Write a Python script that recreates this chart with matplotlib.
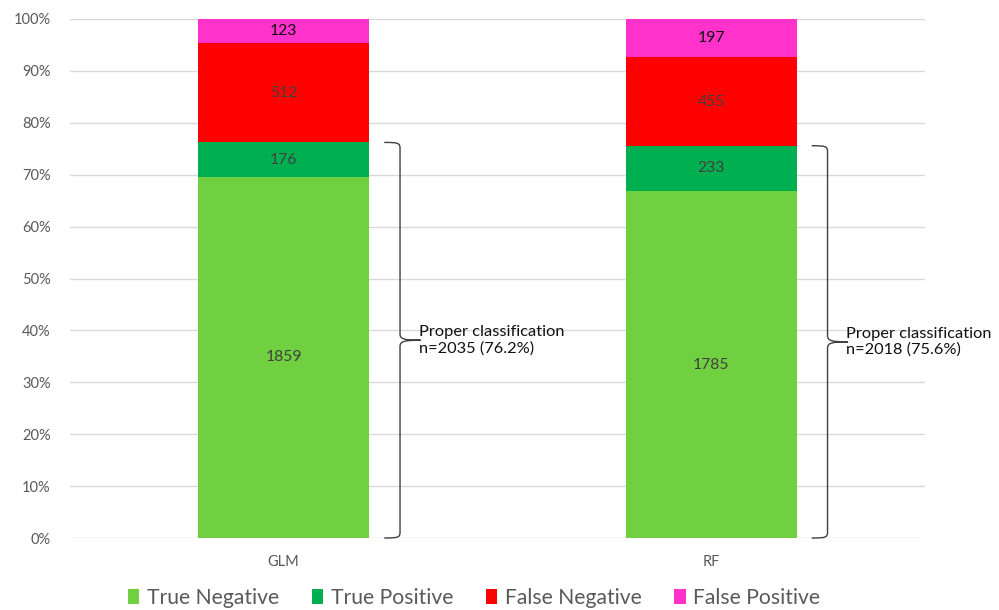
import matplotlib
matplotlib.use("Agg")
import matplotlib.pyplot as plt
from matplotlib.path import Path
from matplotlib.patches import PathPatch, Patch
from matplotlib.ticker import PercentFormatter

plt.rcParams['font.family'] = ['Lato', 'DejaVu Sans']

models = ["GLM", "RF"]
series = ["True Negative", "True Positive", "False Negative", "False Positive"]
true_negative = [1859, 1785]
true_positive = [176, 233]
false_negative = [512, 455]
false_positive = [123, 197]
colors = ["#70D040", "#00B050", "#FF0000", "#FF33CC"]
label_colors = ["#404040", "#404040", "#404040", "#111111"]

counts = [true_negative, true_positive, false_negative, false_positive]
totals = [sum(c[i] for c in counts) for i in range(len(models))]

fig = plt.figure(figsize=(9.99, 6.10), dpi=100)
ax = fig.add_axes([70 / 999, 1 - 538 / 610, (925 - 70) / 999, (538 - 19) / 610])

x = list(range(len(models)))
width = 0.40
bottoms = [0.0] * len(models)
for vals, col, lcol in zip(counts, colors, label_colors):
    pct = [v / t * 100 for v, t in zip(vals, totals)]
    ax.bar(x, pct, width, bottom=bottoms, color=col, zorder=2)
    for i, (p, v) in enumerate(zip(pct, vals)):
        ax.text(x[i], bottoms[i] + p / 2, str(v), ha="center", va="center",
                fontsize=11.3, color=lcol, zorder=3)
    bottoms = [b + p for b, p in zip(bottoms, pct)]


def brace(ax, x0, y_top, y_bot, dx_start=0.035, dx_line=0.072, dx_tip=0.12, r=1.2):
    """Curly bracket on the right of a bar, spanning y_bot..y_top."""
    xs = x0 + dx_start
    xl = x0 + dx_line
    xt = x0 + dx_tip
    ym = (y_top + y_bot) / 2
    rx = (xl - xs)
    verts = [
        (xs, y_top), (xl - rx * 0.1, y_top), (xl, y_top - 0.1), (xl, y_top - r),
        (xl, ym + r),
        (xl, ym + 0.2), (xl + 0.01, ym), (xt, ym),
        (xl + 0.01, ym), (xl, ym - 0.2), (xl, ym - r),
        (xl, y_bot + r),
        (xl, y_bot + 0.1), (xl - rx * 0.1, y_bot), (xs, y_bot),
    ]
    codes = [Path.MOVETO, Path.CURVE4, Path.CURVE4, Path.CURVE4,
             Path.LINETO,
             Path.CURVE4, Path.CURVE4, Path.CURVE4,
             Path.CURVE4, Path.CURVE4, Path.CURVE4,
             Path.LINETO,
             Path.CURVE4, Path.CURVE4, Path.CURVE4]
    ax.add_patch(PathPatch(Path(verts, codes), fill=False, edgecolor="#404040",
                           lw=1.0, zorder=3, clip_on=False))
    return xt, ym


for i in range(len(models)):
    proper = true_negative[i] + true_positive[i]
    top = proper / totals[i] * 100
    xt, ym = brace(ax, x[i] + width / 2, top, 0.0)
    ax.text(xt - 0.004, ym, f"Proper classification\nn={proper} ({proper / totals[i] * 100:.1f}%)",
            ha="left", va="center", fontsize=11.8, color="#111111", linespacing=1.2, zorder=4)

ax.set_xlim(-0.5, 1.5)
ax.set_ylim(0, 100)
ax.set_yticks(range(0, 101, 10))
ax.yaxis.set_major_formatter(PercentFormatter(decimals=0))
ax.set_xticks(x)
ax.set_xticklabels(models)
ax.tick_params(axis="both", length=0, labelsize=10.5, colors="#595959")
ax.tick_params(axis="y", pad=14)
ax.tick_params(axis="x", pad=12)
ax.grid(axis="y", color="#D9D9D9", lw=1.0, zorder=0)
for s in ax.spines.values():
    s.set_visible(False)

handles = [Patch(facecolor=c, edgecolor="none") for c in colors]
fig.legend(handles, series, loc="center", bbox_to_anchor=(474 / 999, 1 - 598 / 610),
           ncol=4, frameon=False, fontsize=15.2, labelcolor="#595959",
           handlelength=0.55, handleheight=0.75, handletextpad=0.35, columnspacing=1.55)

fig.savefig("out.png", dpi=100)
